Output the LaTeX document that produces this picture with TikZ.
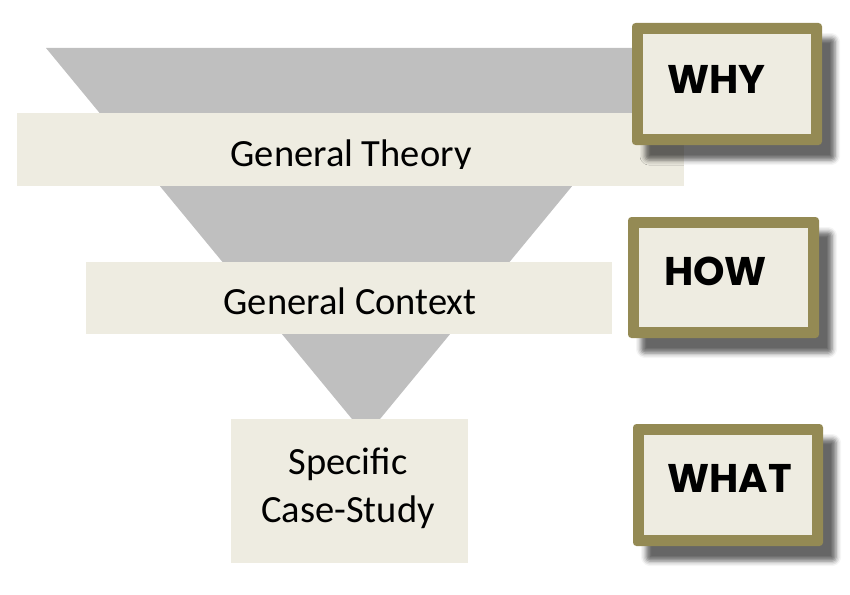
\documentclass[tikz,border=0pt]{standalone}
\usepackage{fontspec}
\setmainfont{Carlito}
\newfontfamily\qfont{Poppins}
\usetikzlibrary{shadows.blur}
\definecolor{funnelgray}{HTML}{BFBFBF}
\definecolor{bandfill}{HTML}{EEECE1}
\definecolor{olivebrd}{HTML}{948A54}
\begin{document}
\begin{tikzpicture}[x=1pt,y=-1pt,
  band/.style={fill=bandfill, draw=none, inner sep=0pt, outer sep=0pt},
  lbl/.style={font=\fontsize{38.5}{46}\selectfont, text=black, inner sep=0pt, anchor=base},
  qouter/.style={fill=olivebrd, draw=none, rounded corners=3.5pt, inner sep=0pt,
    blur shadow={shadow xshift=13pt, shadow yshift=-15pt, shadow blur radius=5pt, shadow opacity=60}},
  qinner/.style={fill=bandfill, draw=none, inner sep=0pt},
  qtext/.style={font=\qfont\bfseries\fontsize{40}{48}\selectfont, text=black, inner sep=0pt, anchor=base west}]
\useasboundingbox (0,0) rectangle (850,594);
% funnel
\fill[funnelgray] (46,48) -- (686,48) -- (366,436) -- cycle;
% bands
\node[band, minimum width=667pt, minimum height=73pt] (theorybox) at (350.5,149.5) {};
\node[band, minimum width=526pt, minimum height=72pt] (contextbox) at (349,298) {};
\node[band, minimum width=237pt, minimum height=144pt] (casebox) at (349.5,491) {};
\begin{scope}
  \clip (0,0) rectangle (850,168);
  \node[lbl] (theory) at (351,166) {General Theory};
\end{scope}
\node[lbl] (context) at (350,314) {General Context};
\node[lbl] (specific) at (348,474) {Specific};
\node[lbl] (casestudy) at (348,522) {Case-Study};
% question boxes
\node[qouter, minimum width=190pt, minimum height=122pt] (whyout) at (727,84) {};
\node[qinner, minimum width=168pt, minimum height=100pt] (whyin) at (whyout.center) {};
\node[qtext] (why) at (667,93) {WHY};
\node[qouter, minimum width=191pt, minimum height=121pt] (howout) at (723.5,277.5) {};
\node[qinner, minimum width=169pt, minimum height=99pt] (howin) at (howout.center) {};
\node[qtext] (how) at (664,285) {HOW};
\node[qouter, minimum width=190pt, minimum height=122pt] (whatout) at (728,485) {};
\node[qinner, minimum width=168pt, minimum height=100pt] (whatin) at (whatout.center) {};
\node[qtext] (what) at (667,492) {WHAT};
\end{tikzpicture}
\end{document}
